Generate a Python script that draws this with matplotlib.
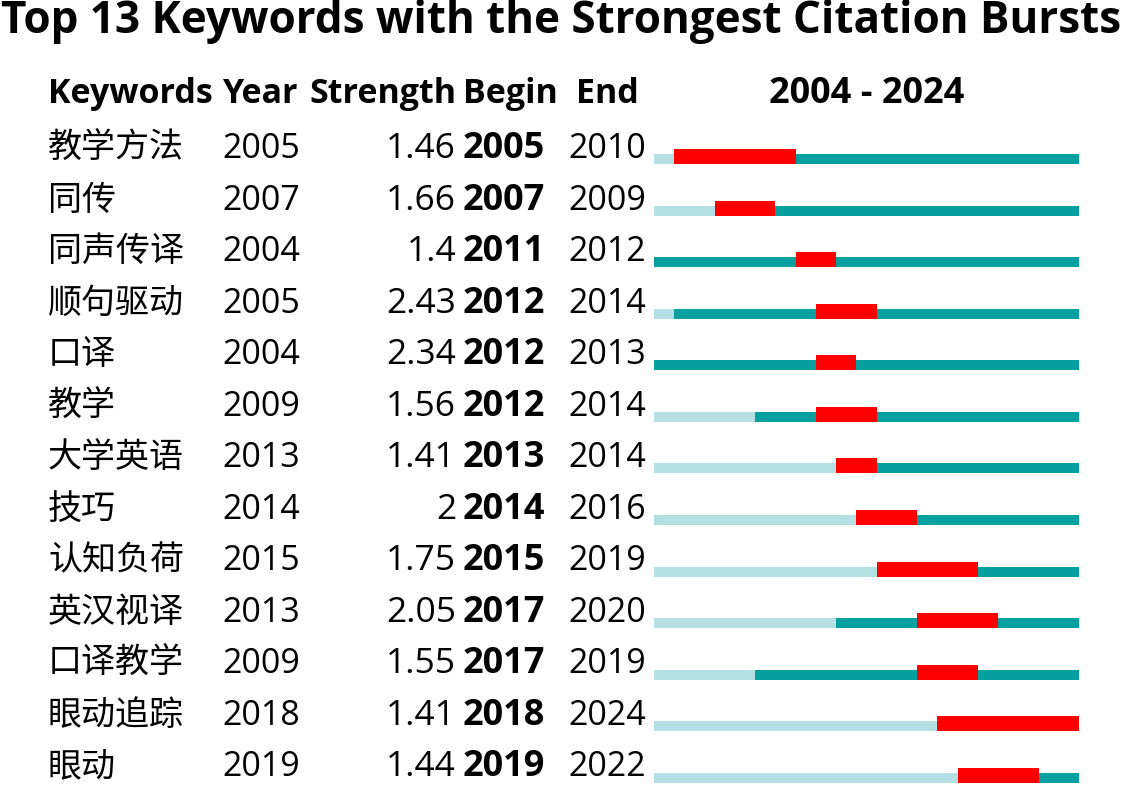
import matplotlib
matplotlib.use("Agg")
import matplotlib.pyplot as plt

plt.rcParams['font.family'] = ['Open Sans', 'Noto Sans CJK SC', 'DejaVu Sans']

keywords = ["教学方法", "同传", "同声传译", "顺句驱动", "口译", "教学", "大学英语",
            "技巧", "认知负荷", "英汉视译", "口译教学", "眼动追踪", "眼动"]
years = [2005, 2007, 2004, 2005, 2004, 2009, 2013, 2014, 2015, 2013, 2009, 2018, 2019]
strength = ["1.46", "1.66", "1.4", "2.43", "2.34", "1.56", "1.41", "2", "1.75", "2.05", "1.55", "1.41", "1.44"]
begin = [2005, 2007, 2011, 2012, 2012, 2012, 2013, 2014, 2015, 2017, 2017, 2018, 2019]
end = [2010, 2009, 2012, 2014, 2013, 2014, 2014, 2016, 2019, 2020, 2019, 2024, 2022]
start_year = 2004
stop_year = 2024

W, H = 1122, 791
fig = plt.figure(figsize=(W / 100, H / 100), dpi=100)

# text layer in pixel coordinates
ax = fig.add_axes([0, 0, 1, 1])
ax.set_xlim(0, W)
ax.set_ylim(H, 0)
ax.axis("off")

ax.text(W / 2, 21, "Top 13 Keywords with the Strongest Citation Bursts",
        ha="center", va="center", fontsize=31.7, fontweight="bold")

hy = 94
hfs = 24.5
ax.text(48, hy, "Keywords", ha="left", va="center", fontsize=hfs, fontweight="bold")
ax.text(222, hy, "Year", ha="left", va="center", fontsize=hfs, fontweight="bold")
ax.text(456, hy, "Strength", ha="right", va="center", fontsize=hfs, fontweight="bold")
ax.text(463, hy, "Begin", ha="left", va="center", fontsize=hfs, fontweight="bold")
ax.text(576, hy, "End", ha="left", va="center", fontsize=hfs, fontweight="bold")
ax.text(867, hy, f"{start_year} - {stop_year}", ha="center", va="center",
        fontsize=hfs + 1.5, fontweight="bold")

row0 = 149
step = 51.53
fs = 24.5
for i in range(len(keywords)):
    y = row0 + i * step
    ax.text(48, y, keywords[i], ha="left", va="center", fontsize=fs)
    ax.text(222, y, str(years[i]), ha="left", va="center", fontsize=fs)
    ax.text(456, y, strength[i], ha="right", va="center", fontsize=fs + 1)
    ax.text(463, y, str(begin[i]), ha="left", va="center", fontsize=fs + 1.5, fontweight="bold")
    ax.text(568, y, str(end[i]), ha="left", va="center", fontsize=fs)

# bar layer in year / row coordinates
x0, x1 = 654 / W, 1079 / W
top = 1 - (164.3 - step) / H
bottom = 1 - (164.3 + 12 * step) / H
bx = fig.add_axes([x0, bottom, x1 - x0, top - bottom])
bx.set_xlim(start_year, stop_year + 1)
bx.set_ylim(12, -1)
bx.axis("off")

thin = 10 / step
thick = 15 / step
for i in range(len(keywords)):
    if years[i] > start_year:
        bx.barh(i - thin, years[i] - start_year, left=start_year, height=thin,
                align="edge", color="#b4e0e4")
    bx.barh(i - thin, stop_year + 1 - years[i], left=years[i], height=thin,
            align="edge", color="#06a0a0")
    bx.barh(i - thick, end[i] + 1 - begin[i], left=begin[i], height=thick,
            align="edge", color="#ff0000")

fig.savefig("out.png", dpi=100)
